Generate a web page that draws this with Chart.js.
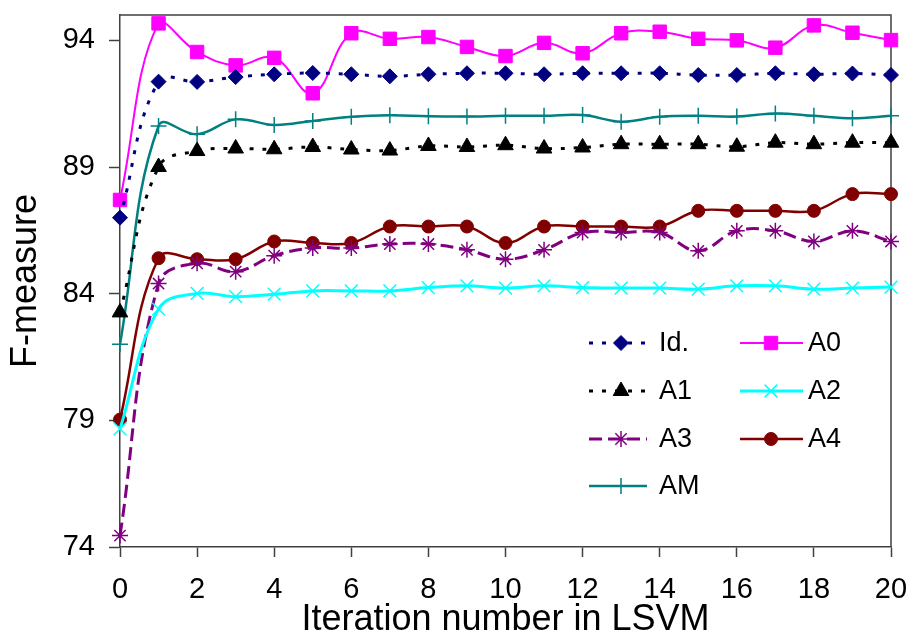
<!DOCTYPE html>
<html>
<head>
<meta charset="utf-8">
<script src="https://cdn.jsdelivr.net/npm/chart.js@4"></script>
<style>
  html, body { margin: 0; padding: 0; background: #fff; }
  #wrap { width: 909px; height: 635px; position: relative; }
</style>
</head>
<body>
<div id="wrap"><canvas id="c" width="909" height="635"></canvas></div>
<script>
const iterations = [0,1,2,3,4,5,6,7,8,9,10,11,12,13,14,15,16,17,18,19,20];
const yTickValues = [74, 79, 84, 89, 94];
const seriesNames = ["Id.", "A0", "A1", "A2", "A3", "A4", "AM"];

const valsId = [87.0, 92.37, 92.36, 92.55, 92.66, 92.71, 92.66, 92.58, 92.66, 92.7, 92.7, 92.66, 92.7, 92.7, 92.7, 92.63, 92.63, 92.7, 92.66, 92.69, 92.63];
const valsA0 = [87.7, 94.67, 93.54, 93.01, 93.31, 91.91, 94.28, 94.06, 94.13, 93.74, 93.38, 93.9, 93.49, 94.28, 94.34, 94.06, 94.0, 93.71, 94.59, 94.3, 94.01];
const valsA1 = [83.26, 89.0, 89.63, 89.73, 89.7, 89.79, 89.69, 89.65, 89.83, 89.79, 89.86, 89.73, 89.77, 89.9, 89.9, 89.9, 89.8, 89.96, 89.9, 89.96, 89.96];
const valsA2 = [78.66, 83.39, 84.01, 83.88, 83.98, 84.11, 84.11, 84.11, 84.24, 84.31, 84.22, 84.31, 84.24, 84.22, 84.22, 84.18, 84.31, 84.31, 84.18, 84.22, 84.26];
const valsA3 = [74.45, 84.4, 85.2, 84.87, 85.5, 85.8, 85.8, 85.96, 85.96, 85.73, 85.36, 85.73, 86.41, 86.41, 86.41, 85.69, 86.48, 86.48, 86.06, 86.48, 86.06];
const valsA4 = [79.03, 85.4, 85.36, 85.36, 86.06, 86.0, 86.0, 86.65, 86.65, 86.65, 86.0, 86.65, 86.65, 86.65, 86.65, 87.27, 87.27, 87.27, 87.27, 87.93, 87.93];
const valsAM = [82.0, 90.62, 90.29, 90.88, 90.66, 90.82, 90.98, 91.04, 91.0, 90.99, 91.02, 91.02, 91.05, 90.79, 90.98, 91.02, 90.99, 91.11, 91.02, 90.92, 91.02];

const toXY = vals => vals.map((v, i) => ({ x: iterations[i], y: v }));
const FONT = "'Liberation Sans', Arial, sans-serif";

function ds(label, vals, color, style, radius, width, dash, pbw, fill) {
  return {
    label, data: toXY(vals),
    borderColor: color, backgroundColor: fill === false ? 'rgba(0,0,0,0)' : color,
    pointBackgroundColor: fill === false ? 'rgba(0,0,0,0)' : color,
    pointBorderColor: color,
    pointStyle: style, pointRadius: radius, pointHoverRadius: radius,
    pointBorderWidth: pbw, borderWidth: width, borderDash: dash,
    tension: 0.4, clip: { left: 20, right: 20, top: 0, bottom: 20 }
  };
}

const datasets = [
  ds(seriesNames[0], valsId, '#000080', 'rectRot', 7.5, 3, [4, 9], 1),
  ds(seriesNames[1], valsA0, '#FF00FF', 'rect', 9.5, 2, [], 1),
  ds(seriesNames[2], valsA1, '#000000', 'triangle', 9, 3, [4, 9], 1),
  ds(seriesNames[3], valsA2, '#00FFFF', 'crossRot', 9, 3, [], 1.5, false),
  ds(seriesNames[4], valsA3, '#800080', 'star', 8, 3, [13, 6], 1.5, false),
  ds(seriesNames[5], valsA4, '#800000', 'circle', 6.5, 2.5, [], 1),
  ds(seriesNames[6], valsAM, '#008080', 'cross', 8, 2.5, [], 1.5, false)
];

// legend layout: [dataset index, column, row]
const legendLayout = [[0,0,0],[2,0,1],[4,0,2],[6,0,3],[1,1,0],[3,1,1],[5,1,2]];

const frameAndLegend = {
  id: 'frameAndLegend',
  beforeDatasetsDraw(chart) {
    const { ctx, chartArea: a } = chart;
    ctx.save();
    ctx.strokeStyle = '#404040';
    ctx.lineWidth = 1.5;
    ctx.beginPath();
    ctx.moveTo(a.left, a.top);
    ctx.lineTo(a.right, a.top);
    ctx.lineTo(a.right, a.bottom);
    ctx.stroke();
    ctx.restore();
  },
  afterDraw(chart) {
    const { ctx } = chart;
    const cols = [{ x0: 589, x1: 647, mx: 621, tx: 659 }, { x0: 740, x1: 803, mx: 771, tx: 808 }];
    const rows = [343, 391, 439, 486];
    ctx.save();
    legendLayout.forEach(([di, c, r]) => {
      const d = chart.data.datasets[di];
      const col = cols[c], y = rows[r];
      ctx.strokeStyle = d.borderColor;
      ctx.lineWidth = d.borderWidth;
      ctx.setLineDash(d.borderDash || []);
      ctx.beginPath();
      ctx.moveTo(col.x0, y);
      ctx.lineTo(col.x1, y);
      ctx.stroke();
      ctx.setLineDash([]);
      ctx.fillStyle = d.pointBackgroundColor;
      ctx.strokeStyle = d.pointBorderColor;
      ctx.lineWidth = d.pointBorderWidth;
      Chart.helpers.drawPoint(ctx, { pointStyle: d.pointStyle, radius: d.pointRadius, borderWidth: d.pointBorderWidth, rotation: 0 }, col.mx, y);
      ctx.fillStyle = '#000';
      ctx.font = '27px ' + FONT;
      ctx.textBaseline = 'middle';
      ctx.textAlign = 'left';
      ctx.fillText(d.label, col.tx, y + 1);
    });
    ctx.restore();
  }
};

new Chart(document.getElementById('c'), {
  type: 'line',
  data: { datasets },
  plugins: [frameAndLegend],
  options: {
    responsive: false,
    animation: false,
    events: [],
    layout: { padding: { top: 15, right: 18, left: 0, bottom: 0 } },
    plugins: { legend: { display: false }, tooltip: { enabled: false } },
    scales: {
      x: {
        type: 'linear', min: 0, max: 20,
        ticks: { stepSize: 2, color: '#000', font: { family: FONT, size: 29 }, padding: 16, maxRotation: 0 },
        grid: { display: true, drawOnChartArea: false, drawTicks: true, tickLength: 10, tickColor: '#404040', tickWidth: 1.5 },
        border: { display: true, color: '#404040', width: 1.5 },
        title: { display: true, text: 'Iteration number in LSVM', color: '#000', font: { family: FONT, size: 36, lineHeight: 0.85 }, padding: { top: 0, bottom: 0 } },
        afterFit(scale) { scale.height = 88; scale.paddingLeft = 0; scale.paddingRight = 0; }
      },
      y: {
        type: 'linear', min: 74, max: 95,
        afterBuildTicks(scale) { scale.ticks = yTickValues.map(v => ({ value: v })); },
        ticks: { color: '#000', font: { family: FONT, size: 29 }, padding: 14 },
        grid: { display: true, drawOnChartArea: false, drawTicks: true, tickLength: 11, tickColor: '#404040', tickWidth: 1.5 },
        border: { display: true, color: '#404040', width: 1.5 },
        title: { display: true, text: 'F-measure', color: '#000', font: { family: FONT, size: 36, lineHeight: 1.2 }, padding: { top: 4, bottom: 0 } },
        afterFit(scale) { scale.width = 120; scale.paddingTop = 0; scale.paddingBottom = 0; }
      }
    }
  }
});
</script>
</body>
</html>
